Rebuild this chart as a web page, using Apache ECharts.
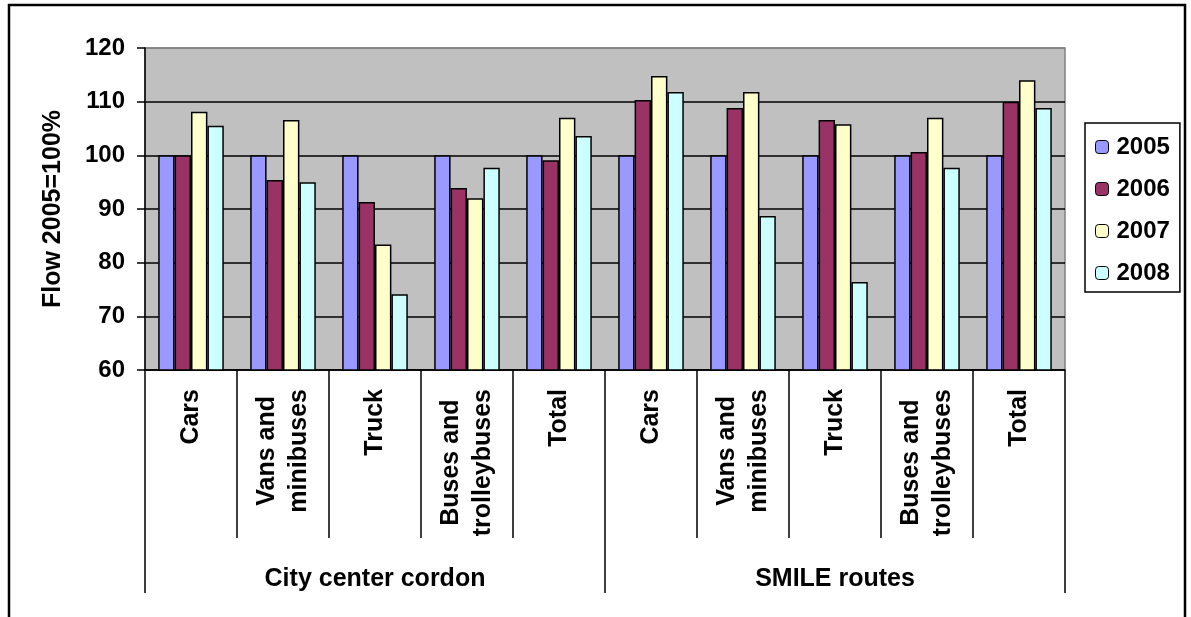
<!DOCTYPE html>
<html>
<head>
<meta charset="utf-8">
<title>Flow 2005=100%</title>
<script src="https://cdn.jsdelivr.net/npm/echarts@6/dist/echarts.min.js"></script>
<style>
  html, body { margin: 0; padding: 0; background: #ffffff; }
  #chart { width: 1191px; height: 617px; }
</style>
</head>
<body>
<div id="chart"></div>
<script>
// Vehicle categories per counting site, and the two site groups
const categories = ['Cars', 'Vans and\nminibuses', 'Truck', 'Buses and\ntrolleybuses', 'Total',
                    'Cars', 'Vans and\nminibuses', 'Truck', 'Buses and\ntrolleybuses', 'Total'];
const groups = ['City center cordon', 'SMILE routes'];
const years = ['2005', '2006', '2007', '2008'];

// Traffic flow indexed to 2005 = 100
const flow2005 = [100, 100, 100, 100, 100, 100, 100, 100, 100, 100];
const flow2006 = [100, 95.4, 91.3, 93.9, 99.1, 110.3, 108.8, 106.6, 100.6, 110.0];
const flow2007 = [108.1, 106.6, 83.4, 92.0, 107.0, 114.8, 111.8, 105.8, 107.0, 114.0];
const flow2008 = [105.5, 95.0, 74.1, 97.7, 103.6, 111.8, 88.7, 76.4, 97.7, 108.8];

const yTicks = [60, 70, 80, 90, 100, 110, 120];

const seriesValues = [flow2005, flow2006, flow2007, flow2008];
const colors = ['#9999FF', '#993366', '#FFFFCC', '#CCFFFF'];
const FONT = '"Liberation Sans", Arial, sans-serif';

const chart = echarts.init(document.getElementById('chart'), null, { renderer: 'canvas' });

const option = {
  backgroundColor: '#ffffff',
  animation: false,
  textStyle: { fontFamily: FONT },
  grid: {
    left: 145, right: 126, top: 48, bottom: 247,
    show: true, backgroundColor: '#C0C0C0', borderColor: '#808080', borderWidth: 1.5
  },
  legend: {
    orient: 'vertical',
    left: 1085, top: 123,
    padding: [12, 10, 7, 10],
    itemGap: 18,
    itemWidth: 13, itemHeight: 13,
    borderColor: '#000', borderWidth: 1.5,
    backgroundColor: '#ffffff',
    data: years,
    itemStyle: { borderColor: '#000', borderWidth: 1 },
    textStyle: { fontFamily: FONT, fontSize: 24, fontWeight: 'bold', color: '#000', padding: [0, 0, 0, 3] }
  },
  xAxis: [
    {
      type: 'category',
      data: categories,
      position: 'bottom',
      axisLine: { show: true, lineStyle: { color: '#000', width: 1.5 } },
      axisTick: { show: true, interval: 0, length: 168, lineStyle: { color: '#000', width: 1.5 } },
      axisLabel: {
        interval: 0, rotate: 90, margin: 19, color: '#000',
        formatter: v => v.split('\n').map(s => '{c|' + s + '}').join('\n'),
        rich: {
          c: { fontFamily: FONT, fontSize: 25, fontWeight: 'bold', color: '#000', lineHeight: 32, align: 'center' }
        }
      }
    },
    {
      type: 'category',
      data: groups,
      position: 'bottom',
      axisLine: { show: false },
      axisTick: { show: true, interval: 0, length: 223, lineStyle: { color: '#000', width: 1.5 } },
      axisLabel: {
        interval: 0, margin: 197, color: '#000',
        fontFamily: FONT, fontSize: 25, fontWeight: 'bold'
      }
    }
  ],
  yAxis: {
    type: 'value',
    min: yTicks[0], max: yTicks[yTicks.length - 1], interval: 10,
    name: 'Flow 2005=100%',
    nameLocation: 'middle',
    nameGap: 79,
    nameTextStyle: { fontFamily: FONT, fontSize: 25, fontWeight: 'bold', color: '#000' },
    axisLine: { show: true, lineStyle: { color: '#000', width: 1.5 } },
    axisTick: { show: true, length: 8, lineStyle: { color: '#000', width: 1.5 } },
    axisLabel: { margin: 20, fontFamily: FONT, fontSize: 24, fontWeight: 'bold', color: '#000' },
    splitLine: {
      show: true,
      lineStyle: { color: ['#000', '#000', '#000', '#000', '#000', '#000', '#808080'], width: 1.5 }
    }
  },
  series: years.map((y, i) => ({
    name: y,
    type: 'bar',
    xAxisIndex: 0,
    data: seriesValues[i],
    barWidth: 16.4,
    barGap: '0%',
    itemStyle: { color: colors[i], borderColor: '#000', borderWidth: 1.5 }
  })),
  graphic: [
    {
      type: 'rect',
      shape: { x: 9, y: 5, width: 1176, height: 700 },
      style: { fill: 'none', stroke: '#000', lineWidth: 2.5 },
      silent: true, z: 100
    }
  ]
};

chart.setOption(option);
</script>
</body>
</html>
